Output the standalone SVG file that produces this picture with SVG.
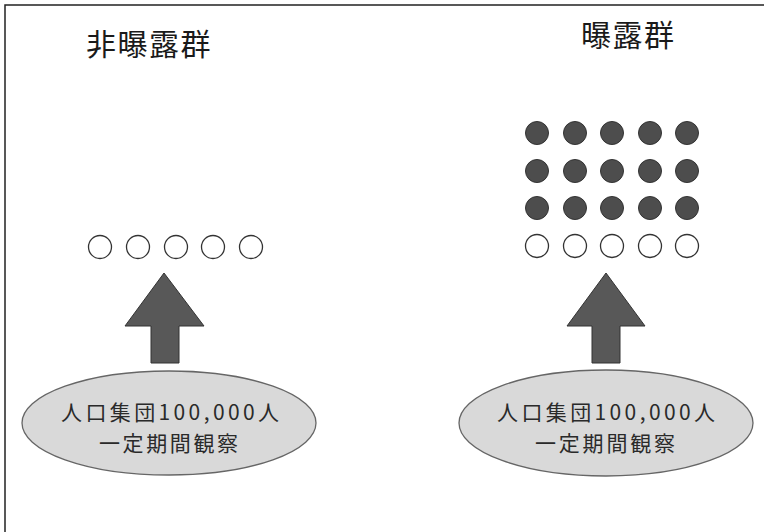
<svg xmlns="http://www.w3.org/2000/svg" width="764" height="532" viewBox="0 0 764 532">
<defs>
<style>
.title{font-family:"Noto Sans CJK JP","Noto Sans CJK SC",sans-serif;font-size:30px;letter-spacing:1.5px;fill:#1a1a1a}
.lbl{font-family:"Noto Sans CJK JP","Noto Sans CJK SC",sans-serif;font-size:21px;fill:#2a2a2a}
.open{fill:#fff;stroke:#333;stroke-width:1.3}
.dark{fill:#4d4d4d;stroke:#333;stroke-width:1}
.ell{fill:#d9d9d9;stroke:#666;stroke-width:1.3}
.arrow{fill:#585858;stroke:#333;stroke-width:1}
</style>
</defs>
<rect x="0" y="0" width="764" height="532" fill="#fff"/>
<path d="M5,532 V5 H764" fill="none" stroke="#222" stroke-width="1.5"/>

<g id="title-unexposed"><text class="title" x="86" y="55">非曝露群</text></g>
<g id="title-exposed"><text class="title" x="581" y="46">曝露群</text></g>

<g id="unexposed-circles">
<circle class="open" cx="100" cy="247" r="11.5"/>
<circle class="open" cx="138" cy="247" r="11.5"/>
<circle class="open" cx="176" cy="247" r="11.5"/>
<circle class="open" cx="213" cy="247" r="11.5"/>
<circle class="open" cx="251" cy="247" r="11.5"/>
</g>

<g id="exposed-circles">
<circle class="dark" cx="537" cy="133" r="11.5"/>
<circle class="dark" cx="575" cy="133" r="11.5"/>
<circle class="dark" cx="612" cy="133" r="11.5"/>
<circle class="dark" cx="650" cy="133" r="11.5"/>
<circle class="dark" cx="687" cy="133" r="11.5"/>
<circle class="dark" cx="537" cy="171" r="11.5"/>
<circle class="dark" cx="575" cy="171" r="11.5"/>
<circle class="dark" cx="612" cy="171" r="11.5"/>
<circle class="dark" cx="650" cy="171" r="11.5"/>
<circle class="dark" cx="687" cy="171" r="11.5"/>
<circle class="dark" cx="537" cy="208" r="11.5"/>
<circle class="dark" cx="575" cy="208" r="11.5"/>
<circle class="dark" cx="612" cy="208" r="11.5"/>
<circle class="dark" cx="650" cy="208" r="11.5"/>
<circle class="dark" cx="687" cy="208" r="11.5"/>
<circle class="open" cx="537" cy="246" r="11.5"/>
<circle class="open" cx="575" cy="246" r="11.5"/>
<circle class="open" cx="612" cy="246" r="11.5"/>
<circle class="open" cx="650" cy="246" r="11.5"/>
<circle class="open" cx="687" cy="246" r="11.5"/>
</g>

<g id="connectors">
<path class="arrow" d="M164,273 L204,326 L179,326 L179,363 L151,363 L151,326 L125,326 Z"/>
<path class="arrow" d="M606,273 L645,326 L620,326 L620,363 L592,363 L592,326 L567,326 Z"/>
</g>

<g id="population-unexposed">
<ellipse class="ell" cx="169" cy="423" rx="147" ry="52"/>
<text class="lbl" x="61" y="419.5" textLength="218" lengthAdjust="spacing">人口集団100,000人</text>
<text class="lbl" x="99" y="450.5" textLength="139" lengthAdjust="spacing">一定期間観察</text>
</g>

<g id="population-exposed">
<ellipse class="ell" cx="606" cy="423" rx="147" ry="53"/>
<text class="lbl" x="497" y="419.5" textLength="218" lengthAdjust="spacing">人口集団100,000人</text>
<text class="lbl" x="535" y="450.5" textLength="140" lengthAdjust="spacing">一定期間観察</text>
</g>
</svg>
